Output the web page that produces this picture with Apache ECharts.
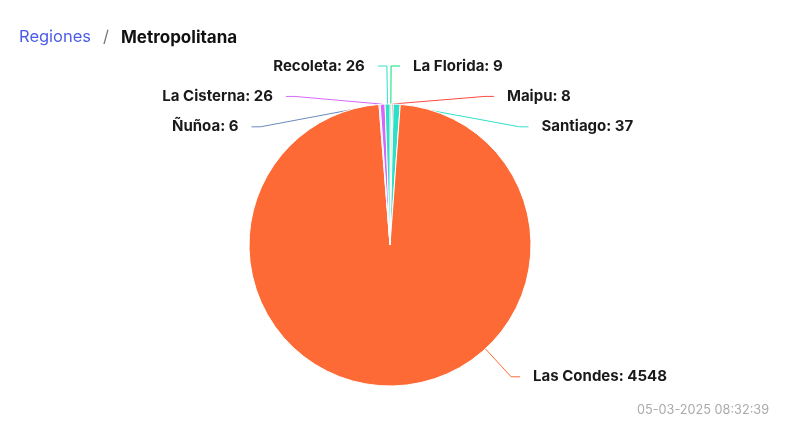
<!DOCTYPE html>
<html><head><meta charset="utf-8">
<script src="https://cdn.jsdelivr.net/npm/echarts@6/dist/echarts.min.js"></script>
<style>html,body{margin:0;padding:0;background:#fff;} #c{width:800px;height:444px;}</style>
</head><body><div id="c"></div>
<script>
const categories = ['La Florida', 'Maipu', 'Santiago', 'Las Condes', 'Ñuñoa', 'La Cisterna', 'Recoleta'];
const values = [9, 8, 37, 4548, 6, 26, 26];
const colors = ['#00e272', '#fa4b42', '#2ee0ca', '#fe6a35', '#6b8abc', '#d568fb', '#2ee0ca'];
const breadcrumb = ['Regiones', 'Metropolitana'];
const timestamp = '05-03-2025 08:32:39';

const CX = 390, CY = 245, R = 141, LEN = 38, LEN2 = 9, DIST = 5;
const total = values.reduce((a, b) => a + b, 0);
const chart = echarts.init(document.getElementById('c'), null, { renderer: 'canvas' });
chart.setOption({
  animation: false,
  textStyle: { fontFamily: 'Inter' },
  title: {
    left: 19, top: 29, padding: 0,
    text: '{a|' + breadcrumb[0] + '}{s|/}{b|' + breadcrumb[1] + '}',
    textStyle: {
      fontWeight: 'normal',
      rich: {
        a: { color: '#4a5ce8', fontSize: 16.5, fontFamily: 'Inter', fontWeight: 'normal' },
        s: { color: '#777', fontSize: 16.5, fontFamily: 'Inter', fontWeight: 'normal', padding: [0, 12] },
        b: { color: '#111', fontSize: 17, fontFamily: 'Inter', fontWeight: 'bold' }
      }
    }
  },
  graphic: [{
    type: 'text', right: 31, top: 404,
    style: { text: timestamp, fill: '#aaaaaa', font: '12.7px Inter' }
  }],
  series: [{
    type: 'pie', left: 0, top: 0, right: 0, bottom: 51,
    center: [CX, CY], radius: R, startAngle: 90, clockwise: true,
    data: categories.map((n, i) => ({ name: n, value: values[i], itemStyle: { color: colors[i] } })),
    itemStyle: { borderColor: '#fff', borderWidth: 1 },
    label: {
      formatter: '{b}: {c}', fontFamily: 'Inter', fontSize: 15, fontWeight: 'bold',
      color: '#1a1a1a', lineHeight: 28.4, padding: [0, 8], distanceToLabelLine: DIST
    },
    labelLine: { length: LEN, length2: LEN2, maxSurfaceAngle: 180, lineStyle: { width: 1 } },
    labelLayout: function (p) {
      if (!p.labelLinePoints || values[p.dataIndex] / total <= 0.5) return {};
      const rect = p.labelRect;
      const y = rect.y + rect.height / 2;
      const dy = y - CY, rA = R + LEN;
      const dx = Math.sqrt(Math.max(rA * rA - dy * dy, 0));
      const elbow = [CX + dx, y];
      const end = [CX + dx + LEN2, y];
      const start = [CX + R * dx / rA, CY + R * dy / rA];
      return { x: end[0] + DIST, y: y, labelLinePoints: [start, elbow, end] };
    }
  }]
});
</script></body></html>
